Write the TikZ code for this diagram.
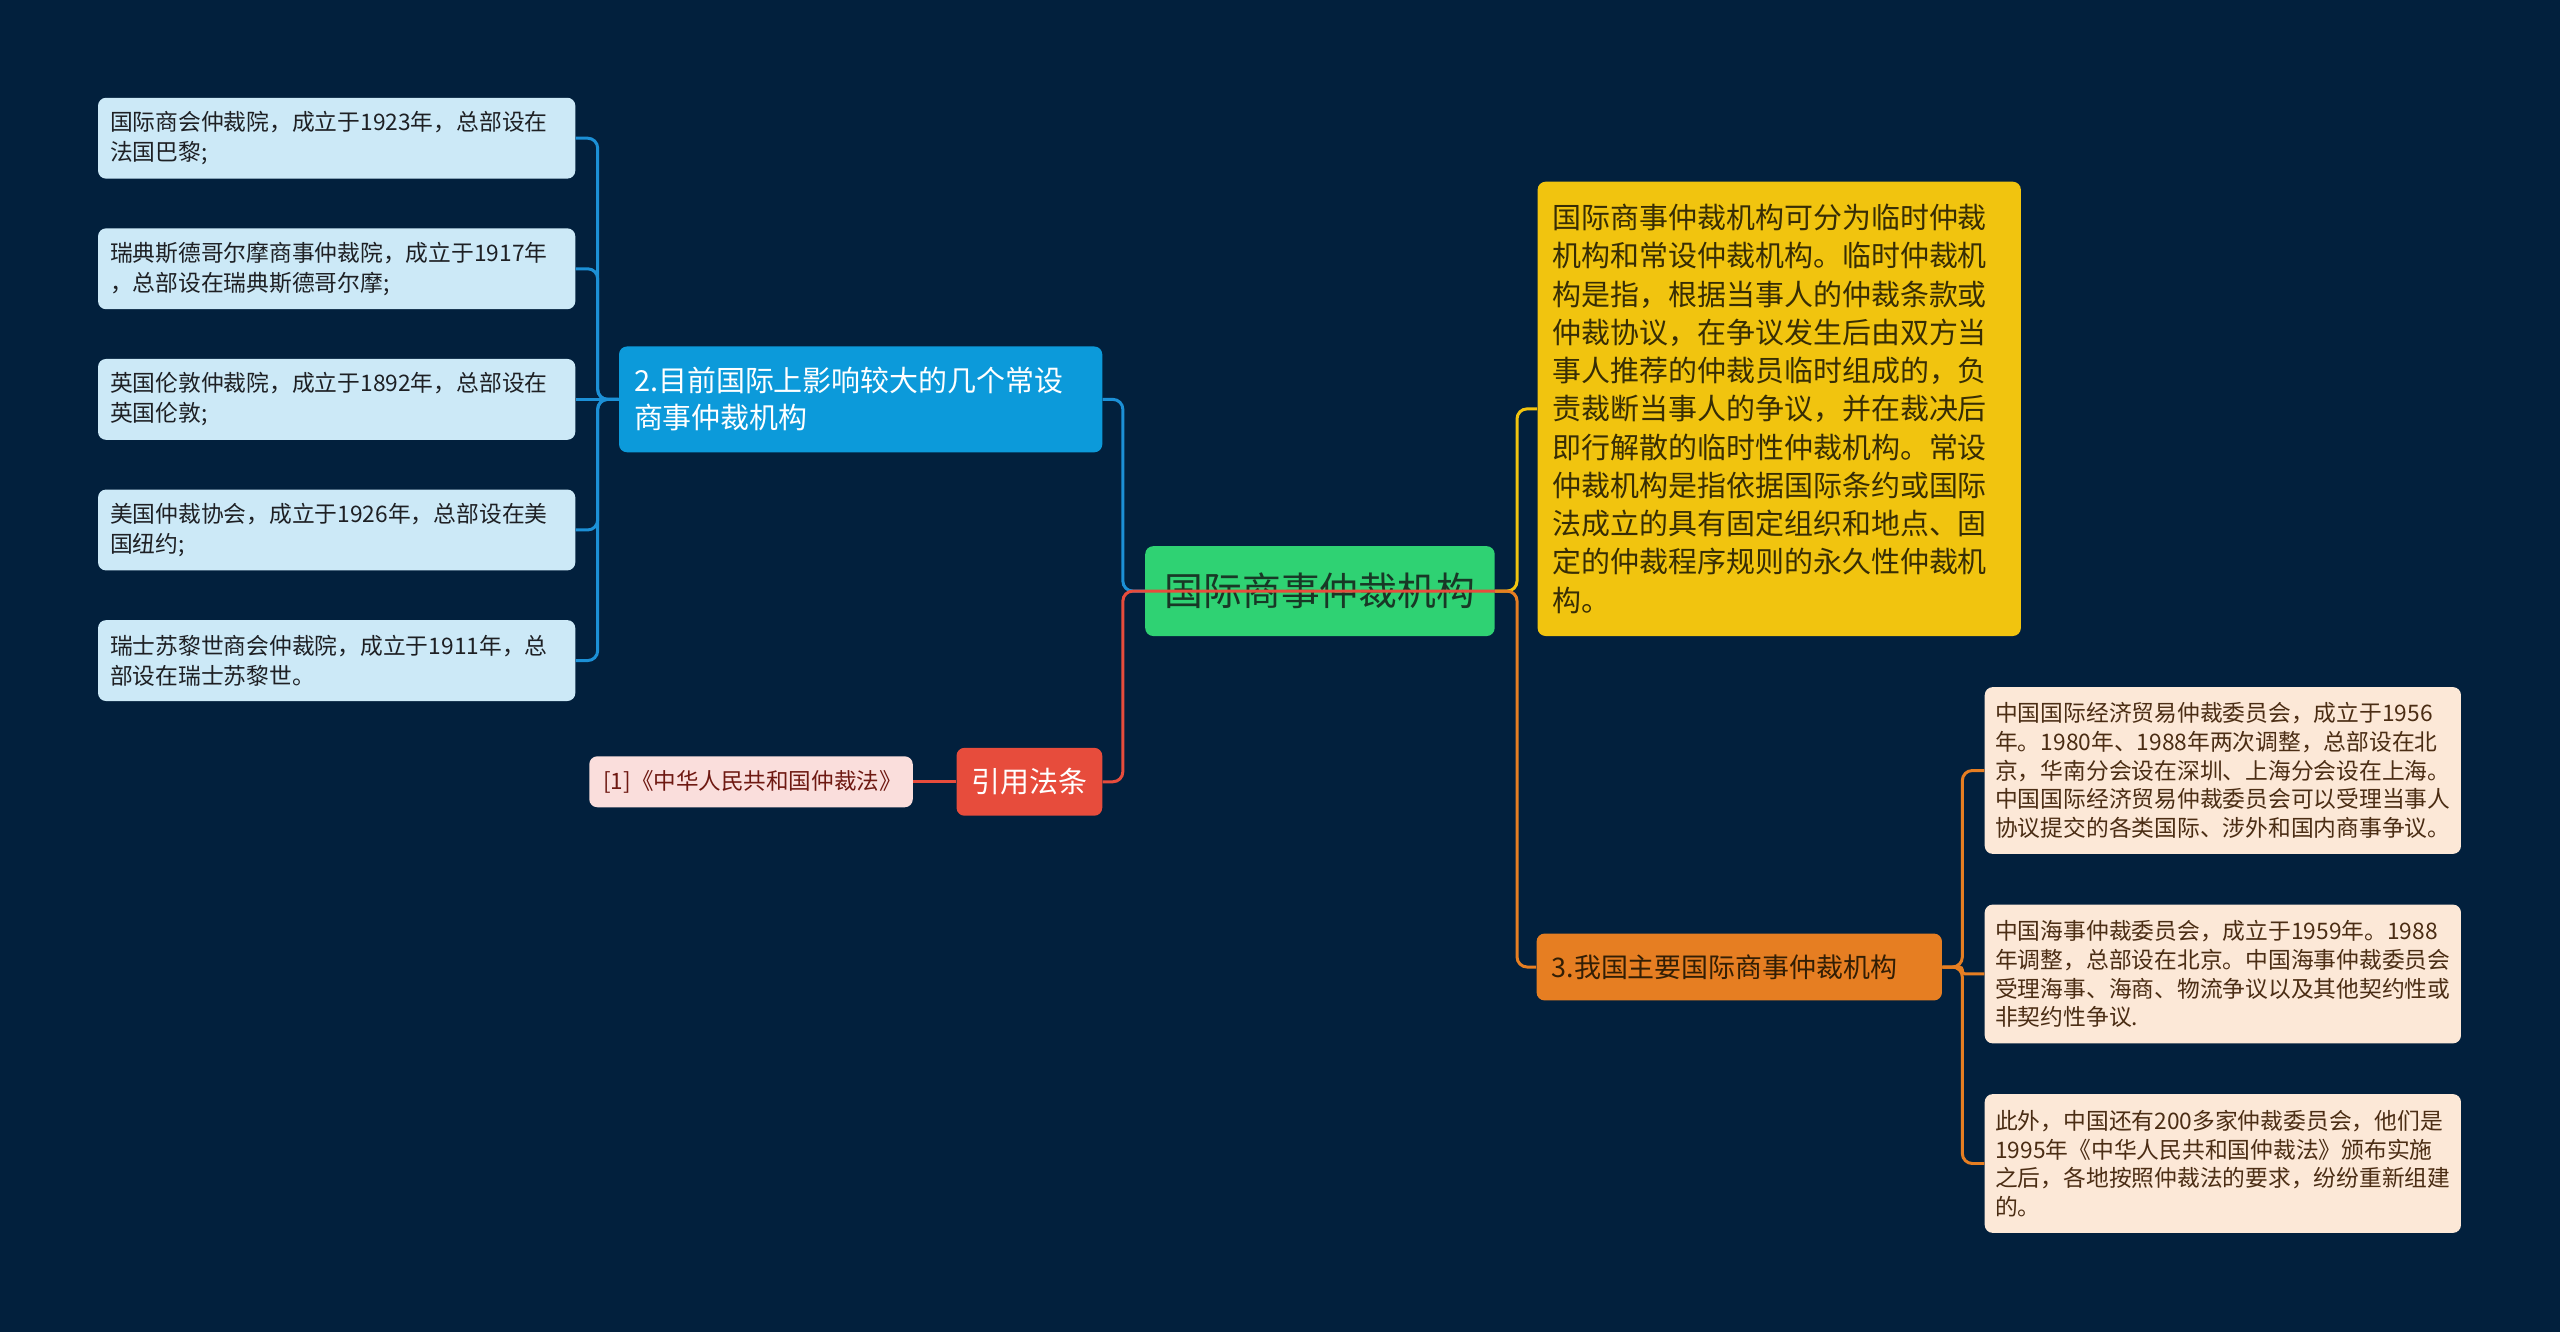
\documentclass[tikz,border=0pt]{standalone}
\usepackage{fontspec}
\setmainfont{Noto Sans CJK SC}
\usepackage{xcolor}
\usetikzlibrary{positioning}

\definecolor{bgnavy}{RGB}{2,32,61}
\definecolor{rootgreen}{RGB}{47,210,115}
\definecolor{roottext}{RGB}{24,56,38}
\definecolor{permblue}{RGB}{12,154,218}
\definecolor{linkblue}{RGB}{28,144,214}
\definecolor{leafblue}{RGB}{204,233,247}
\definecolor{leafbluetext}{RGB}{30,32,36}
\definecolor{citered}{RGB}{231,76,60}
\definecolor{lawpink}{RGB}{250,222,220}
\definecolor{lawtext}{RGB}{110,25,18}
\definecolor{yelfill}{RGB}{241,196,15}
\definecolor{yeltext}{RGB}{55,45,5}
\definecolor{domorange}{RGB}{230,126,34}
\definecolor{domtext}{RGB}{50,30,5}
\definecolor{peach}{RGB}{252,232,215}
\definecolor{peachtext}{RGB}{75,45,20}

\begin{document}
\begin{tikzpicture}[x=0.5pt, y=-0.5pt,
    box/.style={rectangle, rounded corners=4pt, inner sep=0pt, align=left},
    rootbox/.style={box, fill=rootgreen, text=roottext, minimum width=175pt, minimum height=45pt, align=center, font=\fontsize{19.4pt}{23pt}\selectfont},
    permbox/.style={box, fill=permblue, text=white, text width=227pt, inner xsep=7.5pt, minimum height=53pt, font=\fontsize{14.5pt}{18.5pt}\selectfont},
    permleaf/.style={box, fill=leafblue, text=leafbluetext, text width=227pt, inner xsep=6pt, minimum height=40.5pt, font=\fontsize{11.4pt}{15pt}\selectfont},
    citebox/.style={box, fill=citered, text=white, minimum width=73pt, minimum height=34pt, align=center, font=\fontsize{14.5pt}{18pt}\selectfont},
    lawbox/.style={box, fill=lawpink, text=lawtext, text width=148pt, inner xsep=7pt, minimum height=25.5pt, font=\fontsize{11.3pt}{14pt}\selectfont},
    yelbox/.style={box, fill=yelfill, text=yeltext, text width=227pt, inner xsep=7.5pt, minimum height=227.5pt, font=\fontsize{14.5pt}{19.15pt}\selectfont},
    dombox/.style={box, fill=domorange, text=domtext, text width=188pt, inner xsep=7.5pt, minimum height=33.5pt, font=\fontsize{13.5pt}{17pt}\selectfont},
    domleaf/.style={box, fill=peach, text=peachtext, text width=228pt, inner xsep=5.25pt, minimum height=69.5pt, font=\fontsize{11.4pt}{14.4pt}\selectfont},
    link/.style={line width=1.5pt, rounded corners=5pt},
    bluelink/.style={link, draw=linkblue},
    redlink/.style={link, draw=citered},
    yellowlink/.style={link, draw=yelfill},
    orangelink/.style={link, draw=domorange}
  ]
    \fill[bgnavy] (-2,-2) rectangle (2562,1332);
    \useasboundingbox (0,0) rectangle (2560,1330);

    \node[rootbox] (root) at (1320,590) {国际商事仲裁机构};

    \node[permbox] (perm) at (860,398) {2.目前国际上影响较大的几个常设\\商事仲裁机构};
    \node[permleaf, left=21.5pt of perm] (perm3) {英国伦敦仲裁院，成立于1892年，总部设在\\英国伦敦;};
    \node[permleaf, above=24.5pt of perm3] (perm2) {瑞典斯德哥尔摩商事仲裁院，成立于1917年\\，总部设在瑞典斯德哥尔摩;};
    \node[permleaf, above=24.5pt of perm2] (perm1) {国际商会仲裁院，成立于1923年，总部设在\\法国巴黎;};
    \node[permleaf, below=24.5pt of perm3] (perm4) {美国仲裁协会，成立于1926年，总部设在美\\国纽约;};
    \node[permleaf, below=24.5pt of perm4] (perm5) {瑞士苏黎世商会仲裁院，成立于1911年，总\\部设在瑞士苏黎世。};

    \node[citebox] (cite) at (1029,781) {引用法条};
    \node[lawbox, left=21.5pt of cite] (law) {[1]《中华人民共和国仲裁法》};

    \node[yelbox] (yel) at (1780,407.5) {国际商事仲裁机构可分为临时仲裁\\机构和常设仲裁机构。临时仲裁机\\构是指，根据当事人的仲裁条款或\\仲裁协议，在争议发生后由双方当\\事人推荐的仲裁员临时组成的，负\\责裁断当事人的争议，并在裁决后\\即行解散的临时性仲裁机构。常设\\仲裁机构是指依据国际条约或国际\\法成立的具有固定组织和地点、固\\定的仲裁程序规则的永久性仲裁机\\构。};

    \node[dombox] (dom) at (1740,966.5) {3.我国主要国际商事仲裁机构};
    \node[domleaf, right=21pt of dom, yshift=-3.5pt] (dom2) {中国海事仲裁委员会，成立于1959年。1988\\年调整，总部设在北京。中国海事仲裁委员会\\受理海事、海商、物流争议以及其他契约性或\\非契约性争议.};
    \node[domleaf, minimum height=83.5pt, above=25pt of dom2] (dom1) {中国国际经济贸易仲裁委员会，成立于1956\\年。1980年、1988年两次调整，总部设在北\\京，华南分会设在深圳、上海分会设在上海。\\中国国际经济贸易仲裁委员会可以受理当事人\\协议提交的各类国际、涉外和国内商事争议。};
    \node[domleaf, below=25pt of dom2] (dom3) {此外，中国还有200多家仲裁委员会，他们是\\1995年《中华人民共和国仲裁法》颁布实施\\之后，各地按照仲裁法的要求，纷纷重新组建\\的。};

    \draw[bluelink] (root.west) -- ++(-22,0) |- (perm.east);
    \foreach \i in {1,2,4,5}
      \draw[bluelink] (perm.west) -- ++(-21,0) |- (perm\i.east);
    \draw[bluelink] (perm.west) -- (perm3.east);
    \draw[redlink] (root.east) -- ([xshift=-11pt]root.west) |- (cite.east);
    \draw[redlink] (cite.west) -- (law.east);
    \draw[yellowlink] (root.east) -- ++(22,0) |- (yel.west);
    \draw[orangelink] (root.east) -- ++(22,0) |- (dom.west);
    \foreach \i in {1,3}
      \draw[orangelink] (dom.east) -- ++(20,0) |- (dom\i.west);
    \draw[orangelink, rounded corners=1.5pt] (dom.east) -- ++(20,0) |- (dom2.west);
  \end{tikzpicture}
\end{document}
